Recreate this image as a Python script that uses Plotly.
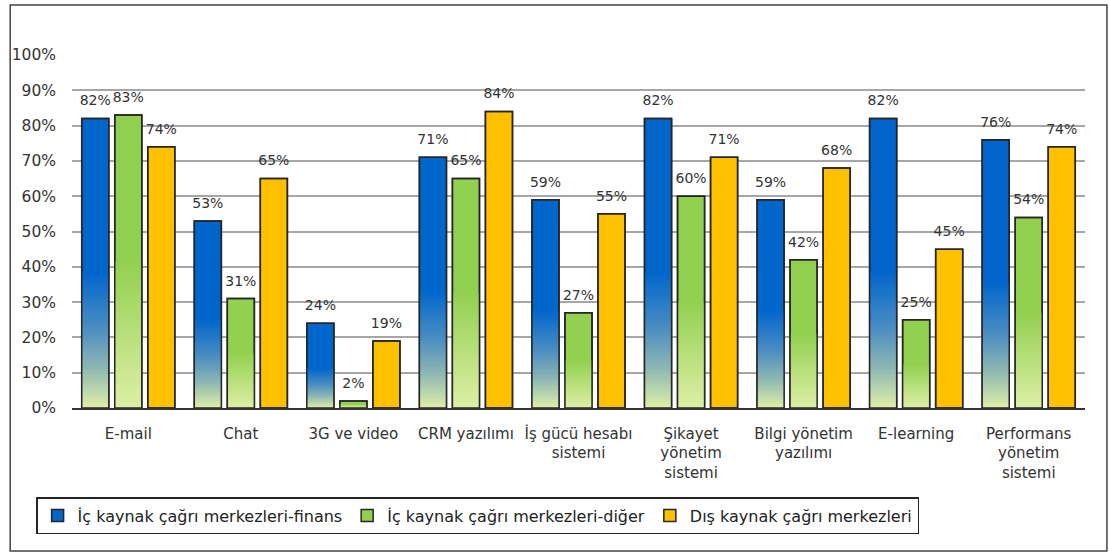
import plotly.graph_objects as go

# Categories (multi-line tick labels) and percentages per respondent group
categories = [
    "E-mail",
    "Chat",
    "3G ve video",
    "CRM yazılımı",
    "İş gücü hesabı<br>sistemi",
    "Şikayet<br>yönetim<br>sistemi",
    "Bilgi yönetim<br>yazılımı",
    "E-learning",
    "Performans<br>yönetim<br>sistemi",
]
finans = [82, 53, 24, 71, 59, 82, 59, 82, 76]
diger = [83, 31, 2, 65, 27, 60, 42, 25, 54]
dis = [74, 65, 19, 84, 55, 71, 68, 45, 74]

series_names = [
    "İç kaynak çağrı merkezleri-finans",
    "İç kaynak çağrı merkezleri-diğer",
    "Dış kaynak çağrı merkezleri",
]

FONT = "DejaVu Sans"
TEXT_COLOR = "#333333"
EDGE = "#262626"
LABEL_LIFT = 2  # extra space (in axis units) between a bar top and its label

# Gradient stops (0 = bar bottom, 1 = top of the faded region)
blue_stops = [(0.0, (222, 239, 168)), (0.3, (140, 182, 178)), (0.6, (72, 140, 194)), (1.0, (0, 102, 204))]
green_stops = [(0.0, (222, 239, 166)), (1.0, (146, 208, 80))]


def interp(stops, t):
    for (t0, c0), (t1, c1) in zip(stops[:-1], stops[1:]):
        if t0 <= t <= t1:
            f = (t - t0) / (t1 - t0) if t1 > t0 else 0
            return "rgb(%d,%d,%d)" % tuple(round(a + (b - a) * f) for a, b in zip(c0, c1))
    return "rgb(%d,%d,%d)" % stops[-1][1]


fig = go.Figure()

series = [
    ("s1", finans, "#0066CC", blue_stops, 0.47),
    ("s2", diger, "#92D050", green_stops, 0.50),
    ("s3", dis, "#FFC000", None, 0),
]

N_SLICES = 40

for (grp, vals, color, stops, frac), name in zip(series, series_names):
    # full bar in the solid colour (also the legend entry)
    fig.add_trace(go.Bar(
        x=categories, y=vals, name=name, offsetgroup=grp,
        marker=dict(color=color, line=dict(color=EDGE, width=1.5)),
        hoverinfo="skip",
    ))
    # faded lower part: overlapping bars from the base, tallest first,
    # so every band is covered without seams
    if stops is not None:
        for k in range(N_SLICES - 1, -1, -1):
            t = (k + 0.5) / N_SLICES
            fig.add_trace(go.Bar(
                x=categories,
                y=[v * frac * (k + 1) / N_SLICES for v in vals],
                offsetgroup=grp, showlegend=False, hoverinfo="skip",
                marker=dict(color=interp(stops, t), line=dict(width=0)),
            ))
    # outline on top
    fig.add_trace(go.Bar(
        x=categories, y=vals, offsetgroup=grp, showlegend=False,
        marker=dict(color="rgba(0,0,0,0)", line=dict(color=EDGE, width=1.5)),
        hovertemplate="%{x}: %{y}%<extra></extra>",
    ))
    # value labels, carried by an invisible bar lifted slightly above the real one
    fig.add_trace(go.Bar(
        x=categories, y=vals, base=[LABEL_LIFT] * len(vals),
        offsetgroup=grp, showlegend=False, hoverinfo="skip",
        marker=dict(color="rgba(0,0,0,0)", line=dict(width=0)),
        text=[f"{v}%" for v in vals], textposition="outside",
        textfont=dict(family=FONT, size=14, color=TEXT_COLOR),
        constraintext="none", cliponaxis=False,
    ))

L, R, T, B = 69, 24, 55, 146
PW, PH = 1109 - L - R, 554 - T - B

fig.update_layout(
    width=1109, height=554,
    margin=dict(l=L, r=R, t=T, b=B),
    paper_bgcolor="white", plot_bgcolor="white",
    barmode="group", bargap=0.12, bargroupgap=0.18,
    font=dict(family=FONT, size=15, color=TEXT_COLOR),
    xaxis=dict(
        showgrid=False, showline=True, linecolor="#333333", linewidth=1.5,
        tickfont=dict(family=FONT, size=15, color=TEXT_COLOR),
        ticks="", ticklabelstandoff=11,
    ),
    yaxis=dict(
        range=[0, 100], dtick=10, ticksuffix="%",
        showgrid=True, gridcolor="#A6A6A6", gridwidth=1.5,
        zeroline=False, showline=False, ticks="",
        tickfont=dict(family=FONT, size=15.5, color=TEXT_COLOR),
        ticklabelstandoff=15,
    ),
    legend=dict(
        orientation="h", x=(33 - L) / PW, y=(PH + T - 497) / PH,
        xanchor="left", yanchor="top",
        bordercolor=EDGE, borderwidth=1.5, bgcolor="white",
        font=dict(family=FONT, size=16, color="#222222"),
        traceorder="normal",
    ),
    shapes=[dict(
        type="rect", xref="paper", yref="paper",
        x0=(7 - L) / PW, x1=(1107 - L) / PW,
        y0=(PH + T - 551) / PH, y1=(PH + T - 5) / PH,
        line=dict(color="#444444", width=1.5), fillcolor="rgba(0,0,0,0)",
        layer="below",
    )],
)

fig.write_html("out.html")
